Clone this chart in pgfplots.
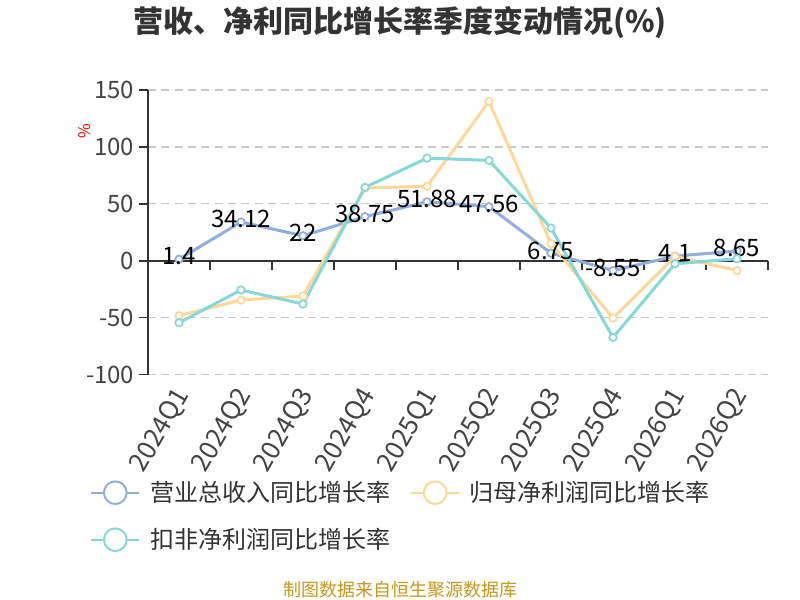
\documentclass[border=0pt]{standalone}
\usepackage{fontspec}
\setmainfont{Noto Sans CJK SC}
\usepackage{pgfplots}
\usepackage{pgfplotstable}
\pgfplotsset{compat=1.18}
\definecolor{cblue}{HTML}{91ACDE}
\definecolor{cyellow}{HTML}{FFD899}
\definecolor{cteal}{HTML}{85D7D8}
\definecolor{ctext}{HTML}{333333}
\definecolor{ctick}{HTML}{444444}
\definecolor{csrc}{HTML}{C9961E}
\definecolor{cgrid}{HTML}{C8C8C8}
\pgfplotstableread{
x rev np npd
0 1.4 -48.2 -54.4
1 34.12 -34.4 -25.6
2 22 -30.9 -37.9
3 38.75 64 64.5
4 51.88 65.5 90.2
5 47.56 140 88.2
6 6.75 15 28.8
7 -8.55 -50.3 -67.3
8 4.1 3.8 -2.6
9 8.65 -8.5 1.8
}\datatable
\begin{document}
\begin{tikzpicture}
\path[use as bounding box] (0,0) rectangle (600pt,450pt);
\node[font=\fontsize{22.5pt}{24pt}\selectfont\bfseries, text=ctext] at (300pt,432.75pt) {营收、净利同比增长率季度变动情况(\%)};
\node[font=\fontsize{12pt}{12pt}\selectfont, text=red, rotate=90] at (63.75pt,351.75pt) {\%};
\node[font=\fontsize{13.5pt}{14pt}\selectfont, text=csrc] at (300pt,7.5pt) {制图数据来自恒生聚源数据库};
\begin{axis}[
  at={(111pt,168.975pt)}, anchor=south west,
  scale only axis, width=465pt, height=213.5pt,
  xmin=-0.5, xmax=9.5, ymin=-100, ymax=150,
  ytick={-100,-50,0,50,100,150},
  xtick={0,...,9},
  xticklabels={2024Q1,2024Q2,2024Q3,2024Q4,2025Q1,2025Q2,2025Q3,2025Q4,2026Q1,2026Q2},
  axis lines*=left,
  x axis line style={draw=none},
  y axis line style={draw=ctext, line width=1.1pt},
  xtick style={draw=none},
  ytick style={draw=ctext, line width=1.1pt},
  tick align=outside,
  major tick length=6.75pt,
  ymajorgrids,
  grid style={cgrid, line width=0.9pt, dash pattern=on 6pt off 4pt},
  /pgf/number format/assume math mode=true,
  yticklabel style={font=\fontsize{18pt}{18pt}\selectfont, text=ctick},
  xticklabel style={font=\fontsize{19.5pt}{19.5pt}\selectfont, text=ctick, xshift=5pt, yshift=-2.5pt, rotate=60, anchor=east},
  legend columns=2,
  legend cell align=left,
  legend style={at={(axis description cs:-0.0935,-0.365)}, anchor=north west, draw=none, fill=none, inner sep=0pt,
    font=\fontsize{18pt}{18pt}\selectfont, text=ctext,
    /tikz/every even column/.append style={column sep=13pt}, row sep=14.5pt},
  clip=false,
]
\draw[ctext, line width=1.1pt] (axis cs:-0.5,0) -- (axis cs:9.5,0);
\pgfplotsinvokeforeach{0,...,10}{\draw[ctext, line width=1.1pt] (axis cs:#1-0.5,0) -- ++(0pt,-6.75pt);}
\addplot[cblue, line width=2.25pt, mark=*, mark size=2.8pt, mark options={fill=white, draw=cblue, line width=1.3pt},
  nodes near coords, every node near coord/.append style={anchor=center, yshift=2pt, font=\fontsize{18pt}{18pt}\selectfont, text=black},
  legend image code/.code={\draw[cblue, line width=1.5pt] (0pt,0pt) -- (36pt,0pt); \draw[cblue, fill=white, line width=1.5pt] (18pt,0pt) circle (8.5pt); \path (41pt,0pt);}]
  table[x=x, y=rev] {\datatable};
\addlegendentry{营业总收入同比增长率}
\addplot[cyellow, line width=2.25pt, mark=*, mark size=2.8pt, mark options={fill=white, draw=cyellow, line width=1.3pt},
  legend image code/.code={\draw[cyellow, line width=1.5pt] (0pt,0pt) -- (36pt,0pt); \draw[cyellow, fill=white, line width=1.5pt] (18pt,0pt) circle (8.5pt); \path (41pt,0pt);}]
  table[x=x, y=np] {\datatable};
\addlegendentry{归母净利润同比增长率}
\addplot[cteal, line width=2.25pt, mark=*, mark size=2.8pt, mark options={fill=white, draw=cteal, line width=1.3pt},
  legend image code/.code={\draw[cteal, line width=1.5pt] (0pt,0pt) -- (36pt,0pt); \draw[cteal, fill=white, line width=1.5pt] (18pt,0pt) circle (8.5pt); \path (41pt,0pt);}]
  table[x=x, y=npd] {\datatable};
\addlegendentry{扣非净利润同比增长率}
\end{axis}
\end{tikzpicture}
\end{document}
